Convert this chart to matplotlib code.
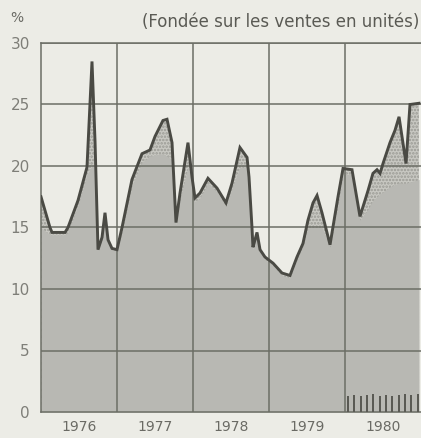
import numpy as np
from matplotlib import pyplot as plt

# part de marche (%) -- courbe totale et zone grise (composante)
t = [1976.000, 1976.118, 1976.145, 1976.316, 1976.355, 1976.487, 1976.605, 1976.671,
     1976.711, 1976.750, 1976.803, 1976.842, 1976.882, 1976.934, 1977.000, 1977.066,
     1977.197, 1977.329, 1977.434, 1977.500, 1977.605, 1977.658, 1977.724, 1977.776,
     1977.829, 1977.934, 1977.987, 1978.026, 1978.092, 1978.197, 1978.316, 1978.434,
     1978.513, 1978.618, 1978.711, 1978.737, 1978.776, 1978.789, 1978.816, 1978.842,
     1978.882, 1978.947, 1979.053, 1979.171, 1979.276, 1979.368, 1979.447, 1979.513,
     1979.579, 1979.632, 1979.697, 1979.803, 1979.908, 1979.974, 1980.092, 1980.197,
     1980.303, 1980.368, 1980.421, 1980.461, 1980.500, 1980.592, 1980.658, 1980.711,
     1980.803, 1980.855, 1980.974]
total = [17.5, 15.0, 14.6, 14.6, 15.0, 17.2, 19.9, 28.5,
         22.0, 13.2, 14.2, 16.2, 14.0, 13.3, 13.2, 15.0,
         18.9, 21.0, 21.3, 22.4, 23.7, 23.8, 21.9, 15.4,
         17.8, 21.9, 19.1, 17.4, 17.8, 19.0, 18.2, 17.0,
         18.6, 21.5, 20.7, 19.1, 15.0, 13.4, 14.0, 14.6,
         13.2, 12.6, 12.1, 11.3, 11.1, 12.6, 13.7, 15.6,
         17.0, 17.6, 16.2, 13.6, 17.5, 19.8, 19.7, 15.9,
         18.0, 19.4, 19.7, 19.4, 20.2, 21.9, 22.9, 24.0,
         20.2, 25.0, 25.1]
gray = [15.0, 14.4, 14.4, 14.4, 14.6, 16.8, 19.3, 20.0,
        20.0, 13.2, 14.0, 15.6, 13.8, 13.2, 13.1, 14.6,
        18.4, 20.3, 20.8, 20.9, 21.0, 20.8, 20.5, 15.2,
        17.3, 19.9, 18.8, 17.1, 17.4, 18.6, 17.9, 16.7,
        18.2, 19.9, 19.9, 18.9, 14.8, 13.2, 13.8, 14.3,
        13.0, 12.4, 11.9, 11.1, 10.9, 12.4, 13.5, 15.0,
        15.0, 15.0, 15.0, 13.4, 16.8, 19.3, 19.3, 15.6,
        16.5, 17.2, 17.5, 17.7, 17.9, 18.3, 18.5, 18.6,
        18.6, 18.7, 18.9]

# petite serie hachuree, 1980 (mensuelle)
months_1980 = [1980.04, 1980.12, 1980.21, 1980.29, 1980.37, 1980.46,
               1980.54, 1980.62, 1980.71, 1980.79, 1980.87, 1980.96]
small_1980 = [1.3, 1.4, 1.3, 1.4, 1.5, 1.3, 1.4, 1.3, 1.4, 1.5, 1.4, 1.5]

years = [1976, 1977, 1978, 1979, 1980]
yticks = [0, 5, 10, 15, 20, 25, 30]

bg = '#ececE6'
plt.rcParams['hatch.linewidth'] = 1.2
fig = plt.figure(figsize=(4.21, 4.38), dpi=100, facecolor=bg)
ax = fig.add_axes([41/421, 1-412/438, 1-41/421, (412-43)/438])
ax.set_facecolor(bg)

ax.fill_between(t, total, 0, color='#c8c8c2', hatch='.....', edgecolor='#9a9a94', linewidth=0, zorder=1)
ax.fill_between(t, gray, 0, color='#b8b8b3', linewidth=0, zorder=2)
ax.bar(months_1980, small_1980, width=0.025, color='#5a5a54', zorder=3)

for y in yticks[1:]:
    ax.axhline(y, color='#6c6e66', lw=1.1, zorder=4)
for x in years[1:]:
    ax.axvline(x, color='#6c6e66', lw=1.1, zorder=4)

ax.plot(t, total, color='#4a4a44', lw=2.1, solid_joinstyle='miter', zorder=5)

ax.set_xlim(1976, 1981)
ax.set_ylim(0, 30)
ax.set_yticks(yticks)
ax.set_yticklabels([str(v) for v in yticks], fontsize=11, color='#7e7e78')
ax.set_xticks([y + 0.5 for y in years])
ax.set_xticklabels([str(y) for y in years], fontsize=10, color='#6a6a64')
ax.tick_params(length=0, pad=6)
ax.tick_params(axis='y', pad=8)
for side in ['left', 'top', 'bottom']:
    ax.spines[side].set_color('#6c6e66')
    ax.spines[side].set_linewidth(1.1)
ax.spines['right'].set_visible(False)

fig.text(10/421, 1-18/438, '%', fontsize=10, color='#6a6a64', va='center')
fig.text(419/421, 1-22/438, '(Fondée sur les ventes en unités)', fontsize=12,
         color='#5a5a54', ha='right', va='center')

fig.savefig('out.png', dpi=100, facecolor=bg)
